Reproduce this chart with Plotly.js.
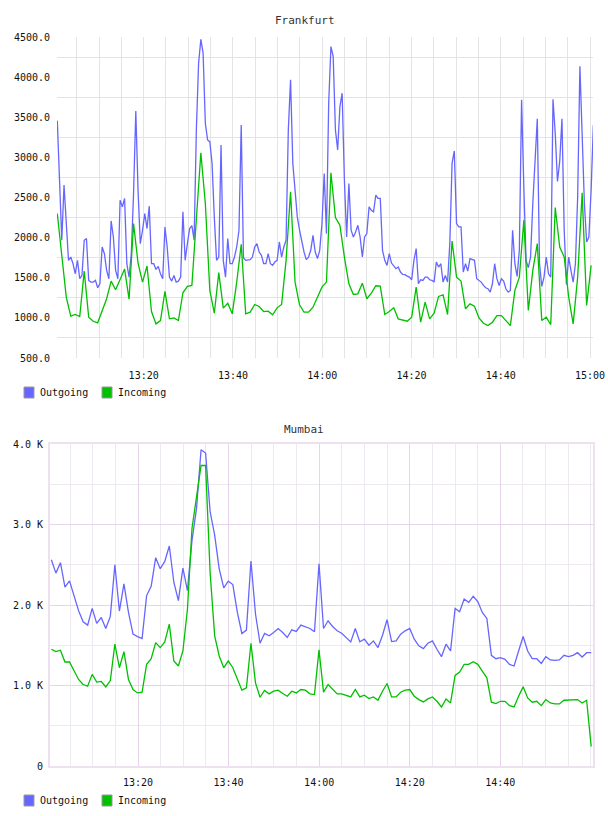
<!DOCTYPE html>
<html>
<head>
<meta charset="utf-8">
<script src="https://cdn.plot.ly/plotly-3.0.1.min.js"></script>
<style>
  html, body { margin: 0; padding: 0; background: #fff; }
  #chart { width: 608px; height: 816px; }
</style>
</head>
<body>
<div id="chart"></div>
<script>
// ---- Series data -------------------------------------------------------
const DAY = '2013-05-14';

const seriesNames = ['Outgoing', 'Incoming'];
const chartTitles = ['Frankfurt', 'Mumbai'];

// Frankfurt, outgoing: one sample every ~30 s from 13:00:39
const frankfurtOut = [
  3458, 2717, 1967, 2654, 2092, 1717, 1758, 1675, 1550, 1717,
  1488, 1529, 1967, 1988, 1467, 1446, 1446, 1467, 1375, 1425,
  1883, 1800, 1592, 1488, 2208, 2008, 1592, 1488, 2467, 2383,
  2488, 1675, 1508, 1800, 2550, 3579, 2592, 1925, 2092, 2300,
  2113, 2392, 1675, 1675, 1604, 1642, 1550, 1488, 2133, 1883,
  1508, 1458, 1529, 1446, 1458, 1508, 2321, 1717, 1925, 2113,
  2150, 1967, 3342, 4175, 4470, 4300, 3425, 3217, 3196, 2925,
  2258, 1717, 1758, 3154, 1717, 1508, 1988, 1675, 1675, 1758,
  1883, 2092, 3404, 1750, 1717, 1725, 1725, 1758, 1883, 1925,
  1821, 1779, 1675, 1675, 1800, 1675, 1654, 1696, 1717, 1946,
  1758, 1883, 1967, 3342, 3967, 2925, 2592, 2258, 2092, 1946,
  1821, 1725, 1758, 1842, 2029, 1821, 1738, 1842, 2175, 2800,
  2050, 3675, 4380, 4258, 3342, 3092, 3633, 3800, 2717, 2008,
  2675, 2092, 2008, 2071, 2154, 2008, 1758, 2008, 2050, 2383,
  2342, 2321, 2529, 2488, 2488, 1842, 1717, 1654, 1800, 1683,
  1642, 1613, 1633, 1571, 1542, 1538, 1521, 1508, 1475, 1717,
  1863, 1425, 1475, 1467, 1508, 1508, 1475, 1467, 1446, 1696,
  1633, 1675, 1446, 1529, 1446, 1925, 2925, 3080, 2175, 2133,
  2133, 1571, 1675, 1583, 1738, 1725, 1717, 1488, 1467, 1446,
  1404, 1375, 1363, 1321, 1425, 1675, 1488, 1404, 1488, 1458,
  1363, 1321, 1342, 2092, 1675, 1517, 1842, 3717, 2633, 1717,
  1625, 1758, 2425, 3008, 3480, 1675, 1392, 1508, 1758, 1550,
  1508, 3725, 3300, 2700, 2950, 3480, 2092, 1417, 1758, 1592,
  1446, 1675, 2508, 4135, 3258, 2425, 1946, 2008, 2592, 3404
];

// Frankfurt, incoming: one sample every ~60 s from 13:00:39
const frankfurtIn = [
  2300, 1780, 1258, 1021, 1042, 1017, 1583, 1008, 958, 938,
  1088, 1238, 1458, 1350, 1479, 1608, 1233, 2175, 1683, 1446,
  1646, 1079, 925, 967, 1329, 988, 1000, 967, 1313, 1392,
  1404, 2230, 3058, 2425, 1342, 1058, 1563, 1121, 1183, 1050,
  1446, 1917, 1050, 1071, 1167, 1142, 1079, 1083, 1038, 1125,
  1167, 1717, 2571, 1446, 1163, 1071, 1071, 1133, 1258, 1383,
  1446, 2808, 2250, 2154, 1758, 1425, 1292, 1300, 1433, 1238,
  1308, 1400, 1396, 1042, 1079, 1125, 988, 975, 958, 1008,
  1383, 946, 1196, 988, 1058, 1267, 1288, 1042, 1958, 1508,
  1458, 1113, 1175, 1146, 1000, 933, 904, 946, 1029, 1029,
  967, 904, 1342, 1508, 2217, 1092, 1592, 1925, 967, 1008,
  917, 2375, 1883, 1758, 1258, 925, 1508, 2558, 1154, 1654
];

// Mumbai, outgoing / incoming: one sample per minute from 13:00:52
const mumbaiOut = [
  2562, 2396, 2525, 2221, 2300, 2117, 1930, 1792, 1750, 1958,
  1771, 1846, 1708, 1858, 2500, 1925, 2263, 1908, 1638, 1608,
  1583, 2117, 2233, 2588, 2450, 2542, 2733, 2283, 2054, 2458,
  2179, 2800, 3200, 3929, 3888, 3158, 2867, 2450, 2213, 2296,
  2254, 1908, 1646, 1688, 2546, 1888, 1525, 1646, 1617, 1658,
  1708, 1658, 1596, 1692, 1671, 1750, 1733, 1708, 1667, 2512,
  1708, 1804, 1733, 1679, 1650, 1596, 1542, 1708, 1542, 1575,
  1500, 1554, 1471, 1625, 1817, 1546, 1554, 1638, 1679, 1708,
  1575, 1492, 1458, 1525, 1554, 1450, 1358, 1513, 1429, 1958,
  1917, 2075, 2033, 2108, 2042, 1908, 1833, 1375, 1333, 1346,
  1325, 1263, 1242, 1429, 1608, 1429, 1333, 1333, 1275, 1358,
  1317, 1313, 1317, 1375, 1358, 1375, 1408, 1354, 1408, 1408
];

const mumbaiIn = [
  1450, 1421, 1438, 1292, 1292, 1179, 1075, 1012, 992, 1138,
  1042, 1050, 983, 1062, 1513, 1221, 1421, 1075, 950, 908,
  917, 1263, 1333, 1533, 1471, 1542, 1763, 1304, 1242, 1429,
  1950, 2950, 3350, 3733, 3733, 2400, 1617, 1367, 1221, 1304,
  1221, 1075, 942, 971, 1525, 1033, 854, 938, 896, 929,
  942, 900, 867, 929, 908, 950, 942, 896, 888, 1442,
  917, 1012, 950, 896, 896, 875, 858, 950, 858, 879,
  838, 858, 817, 929, 1025, 858, 858, 917, 942, 950,
  867, 825, 796, 833, 858, 804, 733, 833, 783, 1125,
  1167, 1263, 1263, 1296, 1263, 1179, 1096, 792, 775, 804,
  804, 750, 733, 867, 983, 846, 792, 804, 750, 825,
  783, 771, 771, 817, 817, 817, 825, 783, 817, 242
];

// Axis ticks
const frankfurtTicks = ['13:20', '13:40', '14:00', '14:20', '14:40', '15:00'];
const mumbaiTicks = ['13:20', '13:40', '14:00', '14:20', '14:40'];
const mumbaiYTickVals = [0, 1000, 2000, 3000, 4000];
const mumbaiYTickText = ['0', '1.0 K', '2.0 K', '3.0 K', '4.0 K'];

// ---- Helpers -----------------------------------------------------------
const pad = n => String(n).padStart(2, '0');
function clock(sec) {
  const h = Math.floor(sec / 3600);
  const m = Math.floor((sec % 3600) / 60);
  const s = sec - h * 3600 - m * 60;
  return DAY + ' ' + pad(h) + ':' + pad(m) + ':' + s.toFixed(3).padStart(6, '0');
}
function hms(str) {
  const p = str.split(':').map(Number);
  return p[0] * 3600 + p[1] * 60 + (p[2] || 0);
}
function timeline(start, step, n) {
  const t0 = hms(start);
  return Array.from({ length: n }, (_, i) => clock(t0 + i * step));
}
const at = s => clock(hms(s));

// ---- Styling -------------------------------------------------------------
const BLUE = '#6666ff';
const GREEN = '#00c000';
const GRID = '#e4e4e4';
const M_MAJOR = '#e6d4ea';
const M_MINOR = '#eee8f0';
const M_BORDER = '#efe0f0';
const FONT = 'DejaVu Sans Mono';
const W = 608, H = 816;
const px = x => x / W;
const py = y => 1 - y / H;

const traces = [
  { x: timeline('13:00:39', 30.15, frankfurtOut.length), y: frankfurtOut, xaxis: 'x', yaxis: 'y',
    type: 'scatter', mode: 'lines', name: seriesNames[0], line: { color: BLUE, width: 1.3 } },
  { x: timeline('13:00:39', 60.3, frankfurtIn.length), y: frankfurtIn, xaxis: 'x', yaxis: 'y',
    type: 'scatter', mode: 'lines', name: seriesNames[1], line: { color: GREEN, width: 1.3 } },
  { x: timeline('13:00:52', 60.1, mumbaiOut.length), y: mumbaiOut, xaxis: 'x2', yaxis: 'y2',
    type: 'scatter', mode: 'lines', name: seriesNames[0], line: { color: BLUE, width: 1.3 } },
  { x: timeline('13:00:52', 60.1, mumbaiIn.length), y: mumbaiIn, xaxis: 'x2', yaxis: 'y2',
    type: 'scatter', mode: 'lines', name: seriesNames[1], line: { color: GREEN, width: 1.3 } }
];

const tickFont = { family: FONT, size: 10, color: '#111' };

// Legend swatches and labels below each plot
function legendItems(yMid) {
  const shapes = [], notes = [];
  const items = [[24, BLUE, 38, seriesNames[0]], [102, GREEN, 116, seriesNames[1]]];
  items.forEach(([x0, col, tx, label]) => {
    shapes.push({ type: 'rect', xref: 'paper', yref: 'paper',
      x0: px(x0), x1: px(x0 + 10), y0: py(yMid - 5.5), y1: py(yMid + 5.5),
      fillcolor: col, line: { color: '#999', width: 1 } });
    notes.push({ xref: 'paper', yref: 'paper', x: px(tx), y: py(yMid), xanchor: 'left', yanchor: 'middle',
      text: label, showarrow: false, font: { family: FONT, size: 10, color: '#111' } });
  });
  return { shapes, notes };
}
const legTop = legendItems(392.5);
const legBot = legendItems(800.5);

const layout = {
  width: W, height: H,
  margin: { l: 0, r: 0, t: 0, b: 0 },
  paper_bgcolor: '#fff', plot_bgcolor: '#fff',
  showlegend: false,
  font: { family: FONT, size: 10, color: '#111' },

  xaxis: {
    domain: [px(57), px(593)], anchor: 'y', type: 'date',
    range: [at('13:00:35'), at('15:00:40')],
    tickmode: 'array', tickvals: frankfurtTicks.map(at), ticktext: frankfurtTicks,
    showgrid: true, gridcolor: GRID, gridwidth: 1,
    minor: { tickmode: 'linear', tick0: at('13:00:00'), dtick: 300000, showgrid: true, gridcolor: GRID, gridwidth: 1 },
    showline: false, zeroline: false, ticks: '', tickfont: tickFont, ticklabelstandoff: 10
  },
  yaxis: {
    domain: [py(358), py(37)], anchor: 'x',
    range: [500, 4500], tickmode: 'linear', tick0: 500, dtick: 500, tickformat: '.1f',
    showgrid: false,
    minor: { tickmode: 'array', tickvals: [750, 1250, 1750, 2250, 2750, 3250, 3750, 4250],
             showgrid: true, gridcolor: GRID, gridwidth: 1 },
    showline: false, zeroline: false, ticks: '', tickfont: tickFont, ticklabelstandoff: 6
  },

  xaxis2: {
    domain: [px(50), px(593)], anchor: 'y2', type: 'date',
    range: [at('13:00:34'), at('15:00:28')],
    tickmode: 'array', tickvals: mumbaiTicks.map(at), ticktext: mumbaiTicks,
    showgrid: true, gridcolor: M_MAJOR, gridwidth: 1,
    minor: { tickmode: 'linear', tick0: at('13:00:00'), dtick: 300000, showgrid: true, gridcolor: M_MINOR, gridwidth: 1 },
    showline: true, linecolor: M_BORDER, linewidth: 2, mirror: true,
    zeroline: false, ticks: '', tickfont: tickFont, ticklabelstandoff: 6
  },
  yaxis2: {
    domain: [py(766), py(444)], anchor: 'x2',
    range: [0, 4000], tickmode: 'array', tickvals: mumbaiYTickVals, ticktext: mumbaiYTickText,
    showgrid: true, gridcolor: M_MAJOR, gridwidth: 1,
    minor: { tickmode: 'array', tickvals: [500, 1500, 2500, 3500], showgrid: true, gridcolor: M_MINOR, gridwidth: 1 },
    showline: true, linecolor: M_BORDER, linewidth: 2, mirror: true,
    zeroline: false, ticks: '', tickfont: tickFont, ticklabelstandoff: 3
  },

  shapes: legTop.shapes.concat(legBot.shapes),
  annotations: [
    { xref: 'paper', yref: 'paper', x: px(305), y: py(20), xanchor: 'center', yanchor: 'middle',
      text: chartTitles[0], showarrow: false, font: { family: FONT, size: 11, color: '#333' } },
    { xref: 'paper', yref: 'paper', x: px(304), y: py(429), xanchor: 'center', yanchor: 'middle',
      text: chartTitles[1], showarrow: false, font: { family: FONT, size: 11, color: '#333' } }
  ].concat(legTop.notes, legBot.notes)
};

Plotly.newPlot('chart', traces, layout, { displayModeBar: false, staticPlot: true });
</script>
</body>
</html>
